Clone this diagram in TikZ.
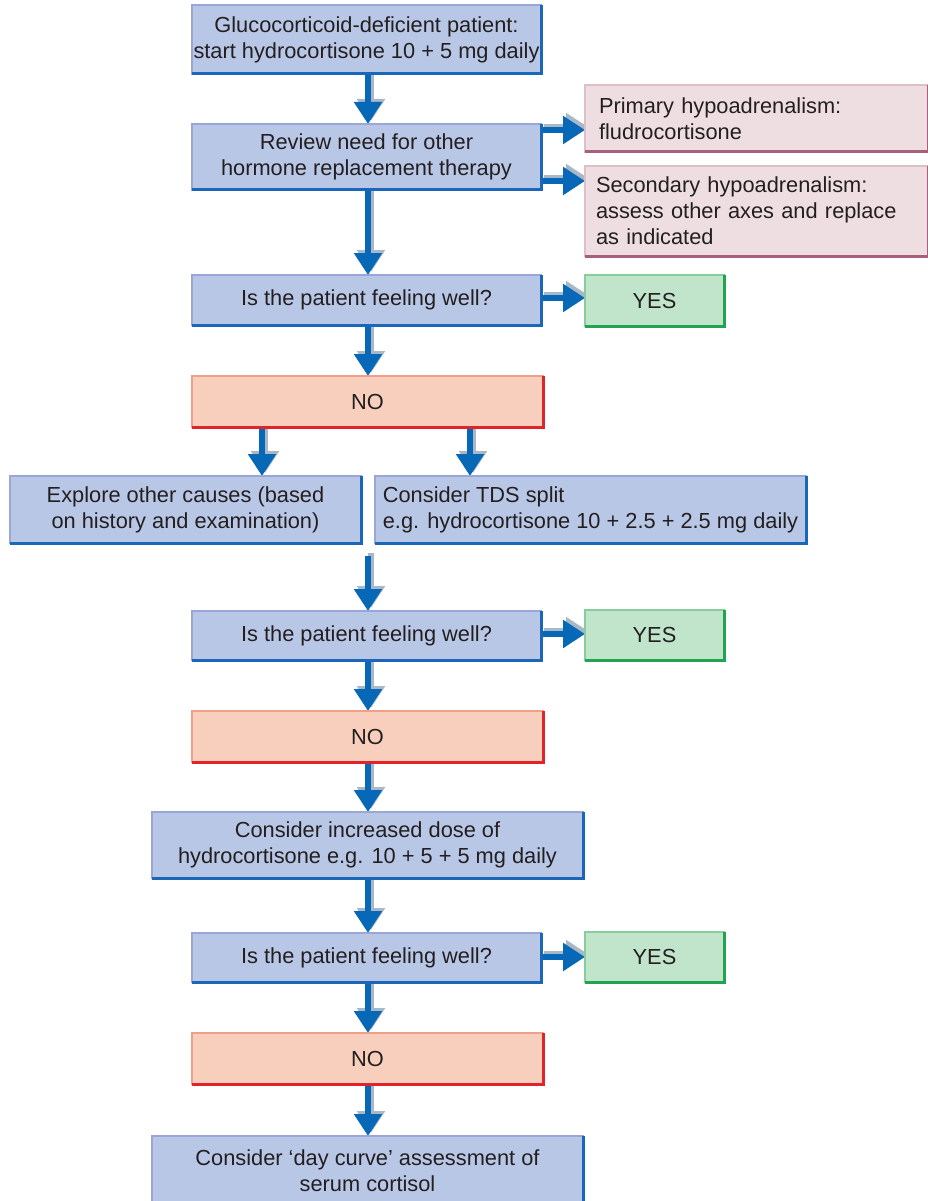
\documentclass[tikz,border=0pt]{standalone}
\usepackage{fontspec}
\setmainfont{Liberation Sans}
\usetikzlibrary{arrows.meta,backgrounds}
\definecolor{txt}{HTML}{231F20}
\definecolor{bfill}{HTML}{B9C7E7}
\definecolor{blight}{HTML}{9BA6D6}
\definecolor{bdark}{HTML}{1A66B8}
\definecolor{pfill}{HTML}{EEDEE1}
\definecolor{plight}{HTML}{DDBFC8}
\definecolor{pdark}{HTML}{A6607D}
\definecolor{gfill}{HTML}{C1E5CB}
\definecolor{glight}{HTML}{86CF9C}
\definecolor{gdark}{HTML}{22A350}
\definecolor{sfill}{HTML}{F7CFBC}
\definecolor{slight}{HTML}{EFA08A}
\definecolor{sdark}{HTML}{E1232B}
\definecolor{arrblue}{HTML}{0868B8}
\definecolor{arrshadow}{HTML}{A9B8C6}
\begin{document}
\begin{tikzpicture}[x=1pt,y=-1pt,
  base/.style={inner sep=0pt, outer sep=0pt, line width=2.5pt, text=txt,
    font=\fontsize{21.8}{26}\selectfont},
  bluebox/.style={base, fill=bfill, draw=blight, align=center},
  pinkbox/.style={base, fill=pfill, draw=plight, align=left},
  greenbox/.style={base, fill=gfill, draw=glight, align=center},
  nobox/.style={base, fill=sfill, draw=slight, align=center},
  flowarr/.style={line width=6pt, draw=arrblue, -{Triangle[width=27pt,length=22pt]}},
  shadowarr/.style={line width=6pt, draw=arrshadow, -{Triangle[width=27pt,length=22pt]},
    transform canvas={xshift=3pt,yshift=3pt}},
  edgeline/.style={line width=3pt, draw=#1}
]
\useasboundingbox (0,0) rectangle (928,1201);

\node[bluebox, minimum width=349, minimum height=69] (start) at (366.5,39.5)
  {Glucocorticoid-deficient patient:\\start hydrocortisone 10 + 5 mg daily};
\node[bluebox, minimum width=349, minimum height=66] (review) at (366.5,157)
  {Review need for other\\hormone replacement therapy};
\node[pinkbox, text width=315, inner xsep=14, minimum height=67] (primary) at (756.5,118.5)
  {Primary hypoadrenalism:\\fludrocortisone};
\node[pinkbox, text width=321, inner xsep=11, minimum height=90] (secondary) at (756.5,211)
  {Secondary hypoadrenalism:\\assess other axes and replace\\as indicated};
\node[bluebox, minimum width=349, minimum height=50] (well1) at (366.5,300)
  {Is the patient feeling well?};
\node[greenbox, minimum width=139, minimum height=51] (yes1) at (654.5,300.5) {YES};
\node[nobox, minimum width=351, minimum height=51] (no1) at (367.5,401.5) {NO};
\node[bluebox, minimum width=351, minimum height=67] (explore) at (185.5,509.5)
  {Explore other causes (based\\on history and examination)};
\node[bluebox, align=left, minimum width=431, minimum height=67] (tds) at (590.5,509.5)
  {Consider TDS split\\e.g. hydrocortisone 10 + 2.5 + 2.5 mg daily};
\coordinate (merge) at (368,556);
\node[bluebox, minimum width=349, minimum height=49] (well2) at (366.5,635.5)
  {Is the patient feeling well?};
\node[greenbox, minimum width=139, minimum height=50] (yes2) at (654.5,635) {YES};
\node[nobox, minimum width=351, minimum height=51] (no2) at (367.5,736.5) {NO};
\node[bluebox, minimum width=431, minimum height=66] (dose) at (367.5,845)
  {Consider increased dose of\\hydrocortisone e.g. 10 + 5 + 5 mg daily};
\node[bluebox, minimum width=349, minimum height=49] (well3) at (366.5,957.5)
  {Is the patient feeling well?};
\node[greenbox, minimum width=139, minimum height=50] (yes3) at (654.5,957) {YES};
\node[nobox, minimum width=351, minimum height=51] (no3) at (367.5,1058.5) {NO};
\node[bluebox, minimum width=431, minimum height=70] (day) at (367.5,1171)
  {Consider `day curve' assessment of\\serum cortisol};

% darker bottom and right edges
\foreach \n/\c in {start/bdark,review/bdark,well1/bdark,explore/bdark,tds/bdark,
    well2/bdark,dose/bdark,well3/bdark,day/bdark,
    primary/pdark,secondary/pdark,yes1/gdark,yes2/gdark,yes3/gdark,
    no1/sdark,no2/sdark,no3/sdark}
  \draw[edgeline=\c, line cap=square] (\n.south west) -- (\n.south east) -- (\n.north east);

\begin{scope}[on background layer]
\foreach \s in {shadowarr,flowarr}{
  \draw[\s] (start.south -| 368,0) -- (review.north -| 368,0);
  \draw[\s] (review.east |- 0,130) -- (primary.west |- 0,130);
  \draw[\s] (review.east |- 0,181) -- (secondary.west |- 0,181);
  \draw[\s] (review.south -| 368,0) -- (well1.north -| 368,0);
  \draw[\s] (well1.east |- 0,298) -- (yes1.west |- 0,298);
  \draw[\s] (well1.south -| 368,0) -- (no1.north -| 368,0);
  \draw[\s] (no1.south -| 262,0) -- (explore.north -| 262,0);
  \draw[\s] (no1.south -| 470,0) -- (tds.north -| 470,0);
  \draw[\s] (merge) -- (well2.north -| merge);
  \draw[\s] (well2.east |- 0,634) -- (yes2.west |- 0,634);
  \draw[\s] (well2.south -| 368,0) -- (no2.north -| 368,0);
  \draw[\s] (no2.south -| 368,0) -- (dose.north -| 368,0);
  \draw[\s] (dose.south -| 368,0) -- (well3.north -| 368,0);
  \draw[\s] (well3.east |- 0,957) -- (yes3.west |- 0,957);
  \draw[\s] (well3.south -| 368,0) -- (no3.north -| 368,0);
  \draw[\s] (no3.south -| 368,0) -- (day.north -| 368,0);
}
\end{scope}
\end{tikzpicture}
\end{document}
